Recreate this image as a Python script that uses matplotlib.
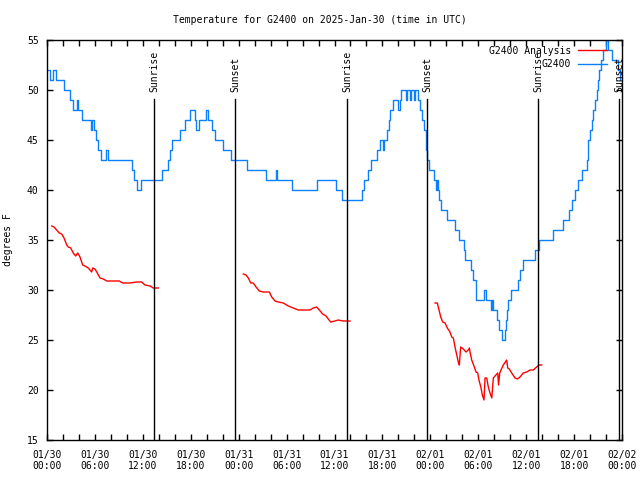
import matplotlib
matplotlib.use("Agg")
import matplotlib.pyplot as plt
import matplotlib.dates as mdates
import numpy as np
import pandas as pd

plt.rcParams['font.family'] = ['DejaVu Sans Mono']
plt.rcParams['font.size'] = 7

start = pd.Timestamp("2025-01-30 00:00")

# G2400 observations: hours after start, degrees F
obs_hours = [0.13, 0.38, 0.75, 1.13, 2.13, 2.88, 3.26, 3.76, 3.88, 4.38, 5.51, 5.63, 5.89,
             6.14, 6.39, 6.76, 7.39, 7.64, 10.64, 10.89, 11.27, 11.77, 14.40, 15.15, 15.40,
             15.65, 16.65, 17.28, 17.90, 18.53, 18.66, 19.03, 19.91, 20.16, 20.66, 21.04,
             22.04, 23.04, 25.04, 27.42, 28.67, 28.80, 30.68, 33.81, 36.19, 36.94, 39.44,
             39.69, 40.20, 40.57, 41.32, 41.70, 42.07, 42.20, 42.57, 42.82, 42.95, 43.33,
             43.95, 44.20, 44.33, 44.95, 45.08, 45.45, 45.58, 45.96, 46.08, 46.46, 46.71,
             46.96, 47.21, 47.46, 47.58, 47.83, 48.46, 48.71, 48.83, 48.96, 49.09, 49.34,
             50.09, 51.09, 51.59, 52.22, 52.34, 53.09, 53.34, 53.72, 54.72, 54.97, 55.60,
             55.72, 55.85, 56.35, 56.60, 56.97, 57.35, 57.48, 57.60, 57.73, 58.10, 58.98,
             59.23, 59.60, 61.10, 61.61, 63.36, 64.61, 65.36, 65.74, 66.12, 66.49, 66.99,
             67.62, 67.74, 68.00, 68.25, 68.37, 68.62, 68.87, 69.00, 69.12, 69.37, 69.62,
             70.00, 70.25, 70.75, 71.50, 71.75]
obs_temps = [52, 51, 52, 51, 50, 49, 48, 49, 48, 47, 46, 47, 46,
             45, 44, 43, 44, 43, 42, 41, 40, 41, 42, 43, 44,
             45, 46, 47, 48, 47, 46, 47, 48, 47, 46, 45,
             44, 43, 42, 41, 42, 41, 40, 41, 40, 39, 40,
             41, 42, 43, 44, 45, 44, 45, 46, 47, 48, 49,
             48, 49, 50, 49, 50, 49, 50, 49, 50, 49, 48,
             47, 46, 44, 43, 42, 41, 40, 41, 40, 39, 38,
             37, 36, 35, 34, 33, 32, 31, 29, 30, 29, 28,
             29, 28, 27, 26, 25, 26, 27, 28, 29, 30, 31,
             32, 33, 34, 35, 36, 37, 38, 39, 40, 41, 42,
             43, 45, 46, 47, 48, 49, 50, 51, 52, 53, 54,
             55, 54, 53, 52, 51]

# G2400 Analysis, three separate runs
ana1_hours = [0.59, 0.88, 1.21, 1.54, 1.84, 2.13, 2.47, 2.67, 2.97, 3.29, 3.59, 3.84, 4.13,
              4.47, 4.76, 5.17, 5.60, 5.72, 6.01, 6.30, 6.64, 7.05, 7.48, 8.30, 9.05, 9.48,
              10.39, 11.23, 11.86, 12.27, 12.90, 13.31, 13.94]
ana1_temps = [36.4, 36.3, 36.0, 35.7, 35.6, 35.2, 34.5, 34.3, 34.2, 33.7, 33.4, 33.7, 33.3,
              32.5, 32.4, 32.2, 31.8, 32.2, 32.1, 31.7, 31.2, 31.1, 30.9, 30.9, 30.9, 30.7,
              30.7, 30.8, 30.8, 30.5, 30.4, 30.2, 30.2]
ana2_hours = [24.58, 24.92, 25.21, 25.51, 25.83, 26.17, 26.58, 27.09, 27.84, 28.14, 28.55,
              28.96, 29.59, 30.22, 30.84, 31.47, 32.31, 32.93, 33.35, 33.77, 34.10, 34.52,
              34.94, 35.22, 35.52, 36.06, 36.48, 37.10, 37.53, 37.94]
ana2_temps = [31.6, 31.5, 31.2, 30.7, 30.7, 30.3, 29.9, 29.8, 29.8, 29.3, 28.9,
              28.8, 28.7, 28.4, 28.2, 28.0, 28.0, 28.0, 28.2, 28.3, 28.0, 27.6,
              27.4, 27.1, 26.8, 26.9, 27.0, 26.9, 26.9, 26.9]
ana3_hours = [48.59, 48.87, 49.09, 49.30, 49.55, 49.84, 50.13, 50.46, 50.68, 50.88, 51.09,
              51.31, 51.50, 51.63, 51.80, 52.13, 52.47, 52.76, 52.89, 52.97, 53.18, 53.51,
              53.72, 53.93, 54.09, 54.35, 54.51, 54.72, 54.85, 55.06, 55.26, 55.47, 55.69,
              55.89, 56.10, 56.44, 56.54, 56.69, 56.85, 57.14, 57.56, 57.69, 57.89, 58.19,
              58.60, 58.89, 59.23, 59.64, 60.07, 60.48, 60.89, 61.32, 61.61, 61.95]
ana3_temps = [28.7, 28.7, 28.0, 27.3, 26.8, 26.7, 26.2, 25.8, 25.3, 25.2, 24.3,
              23.5, 22.8, 22.5, 24.3, 24.1, 23.8, 24.0, 24.2, 23.8, 23.0, 22.3,
              21.8, 21.7, 21.0, 20.2, 19.5, 19.0, 21.2, 21.2, 20.3, 19.7, 19.2,
              21.2, 21.4, 21.7, 20.5, 21.7, 22.0, 22.5, 23.0, 22.2, 22.1, 21.7,
              21.2, 21.1, 21.3, 21.7, 21.8, 22.0, 22.0, 22.3, 22.5, 22.5]

sun_hours = [13.40, 23.54, 37.57, 47.58, 61.48, 71.62]
sun_labels = ["Sunrise", "Sunset", "Sunrise", "Sunset", "Sunrise", "Sunset"]


def to_time(hours):
    return [start + pd.Timedelta(hours=h) for h in hours]


fig = plt.figure(figsize=(6.4, 4.8), dpi=100)
ax = fig.add_axes([47 / 640, 40 / 480, 575 / 640, 400 / 480])

red = '#ff0000'
blue = '#0a80ff'

first = True
for hh, tt in [(ana1_hours, ana1_temps), (ana2_hours, ana2_temps), (ana3_hours, ana3_temps)]:
    ax.plot(to_time(hh), tt, color=red, linewidth=1,
            label='G2400 Analysis' if first else None)
    first = False

ax.plot(to_time(obs_hours), obs_temps, color=blue, linewidth=1,
        drawstyle='steps-post', label='G2400')

for h, lab in zip(sun_hours, sun_labels):
    t = start + pd.Timedelta(hours=h)
    ax.plot([t, t], [15, 49.1], color='black', linewidth=1)
    ax.text(t, 49.8, lab, rotation=90, ha='center', va='bottom')

ax.set_xlim(start, start + pd.Timedelta(hours=72))
ax.set_ylim(15, 55)
ax.set_yticks(range(15, 56, 5))
ax.xaxis.set_major_locator(mdates.HourLocator(byhour=[0, 6, 12, 18]))
ax.xaxis.set_minor_locator(mdates.HourLocator(byhour=range(0, 24, 2)))
ax.xaxis.set_major_formatter(mdates.DateFormatter('%m/%d\n%H:%M'))
ax.tick_params(which='both', direction='in', top=True, right=True, length=4, width=1)
ax.tick_params(axis='x', pad=7)
ax.tick_params(axis='y', pad=6)
for sp in ax.spines.values():
    sp.set_linewidth(1)

ax.set_ylabel('degrees F', labelpad=10)
fig.text(0.5, 1 - 20 / 480, 'Temperature for G2400 on 2025-Jan-30 (time in UTC)',
         ha='center', va='center')

ax.legend(loc='upper right', bbox_to_anchor=(1 - 4 / 575, 1 + 5 / 400),
          frameon=False, markerfirst=False, handlelength=3.0,
          borderaxespad=0.9, borderpad=0.2, labelspacing=0.35, handletextpad=0.7)

fig.savefig('out.png', dpi=100)
